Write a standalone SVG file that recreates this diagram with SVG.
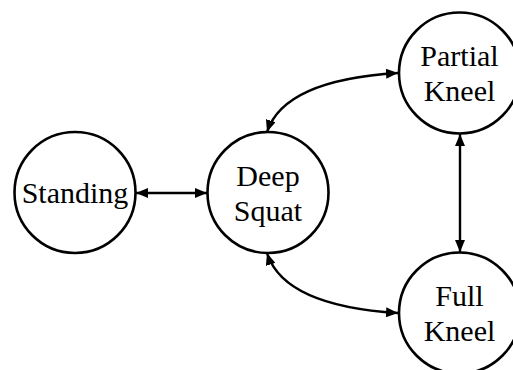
<svg xmlns="http://www.w3.org/2000/svg" width="513" height="370" viewBox="0 0 513 370">
  <style>
    .node circle { fill: #ffffff; stroke: #000000; stroke-width: 2.6; }
    .node text { font-family: "Liberation Serif", "Times New Roman", serif; font-size: 30px; fill: #000000; text-anchor: middle; }
    .edge { fill: none; stroke: #000000; stroke-width: 2.4; marker-start: url(#head-start); marker-end: url(#head-end); }
  </style>
  <defs>
    <marker id="head-end" viewBox="0 0 12 10" refX="12" refY="5" markerWidth="12" markerHeight="10" markerUnits="userSpaceOnUse" orient="auto">
      <path d="M0,0 L12,5 L0,10 z" fill="#000000"/>
    </marker>
    <marker id="head-start" viewBox="0 0 12 10" refX="0" refY="5" markerWidth="12" markerHeight="10" markerUnits="userSpaceOnUse" orient="auto">
      <path d="M12,0 L0,5 L12,10 z" fill="#000000"/>
    </marker>
  </defs>

  <!-- transitions between postures -->
  <g id="connectors">
    <line class="edge" x1="136" y1="193" x2="207" y2="193"/>
    <path class="edge" d="M267,132 Q284,80 398,73"/>
    <path class="edge" d="M267,253 Q284,306 398,313"/>
    <line class="edge" x1="460" y1="134" x2="460" y2="252"/>
  </g>

  <!-- postures -->
  <g id="standing" class="node">
    <circle cx="75" cy="192.5" r="60.5"/>
    <text x="75" y="203">Standing</text>
  </g>
  <g id="deep-squat" class="node">
    <circle cx="268" cy="192.5" r="60.5"/>
    <text x="268" y="186">Deep</text>
    <text x="268" y="221">Squat</text>
  </g>
  <g id="partial-kneel" class="node">
    <circle cx="459.5" cy="73" r="60.5"/>
    <text x="459.5" y="66">Partial</text>
    <text x="459.5" y="101">Kneel</text>
  </g>
  <g id="full-kneel" class="node">
    <circle cx="459.5" cy="313" r="60.5"/>
    <text x="459.5" y="306">Full</text>
    <text x="459.5" y="341">Kneel</text>
  </g>
</svg>
